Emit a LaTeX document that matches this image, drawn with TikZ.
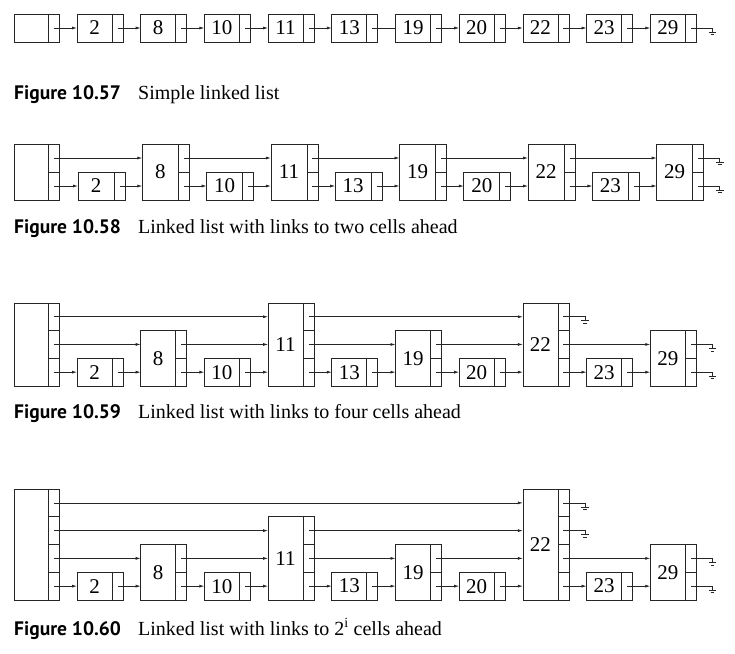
\documentclass[tikz,border=0pt]{standalone}
\usepackage{fontspec}
\setmainfont{Liberation Serif}
\newfontfamily\capsans{PT Sans}
\usetikzlibrary{arrows.meta}

\tikzset{
  box/.style={draw=black!85, line width=0.8pt, inner sep=0pt, outer sep=0pt,
              font=\fontsize{21}{21}\selectfont},
  link/.style={draw=black!85, line width=0.75pt, -{Latex[length=5pt,width=3pt]}},
  bare/.style={draw=black!85, line width=0.75pt},
  gnd/.style={draw=black!85, line width=0.75pt},
  capfig/.style={anchor=base west, inner sep=0pt, font=\capsans\bfseries\fontsize{19.5}{19.5}\selectfont},
  captxt/.style={anchor=base west, inner sep=0pt, font=\fontsize{20}{20}\selectfont},
}

% #1 id, #2 bottom y, #3 first x, #4 dx, #5 data width, #6 level height,
% #7 number of levels, #8 value/level list, #9 index without arrow head
\newcommand\skiplist[9]{%
  \node[box, minimum width=34pt, minimum height=#7*#6pt, anchor=south west]
    (f#1c0) at (14,#2) {};
  \foreach \k in {1,...,#7} {
    \node[box, minimum width=11pt, minimum height=#6pt, anchor=south west]
      (f#1c0-\k) at ([yshift=(\k-1)*#6pt]f#1c0.south east) {};
    \expandafter\xdef\csname lastcell\k\endcsname{f#1c0}
  }
  \foreach \v/\lev [count=\i] in {#8} {
    \node[box, minimum width=#5pt, minimum height=\lev*#6pt, anchor=south west]
      (f#1c\i) at ({#3+(\i-1)*#4},#2) {\v};
    \foreach \k in {1,...,\lev} {
      \node[box, minimum width=11pt, minimum height=#6pt, anchor=south west]
        (f#1c\i-\k) at ([yshift=(\k-1)*#6pt]f#1c\i.south east) {};
      \edef\src{\csname lastcell\k\endcsname}
      \ifnum\i=#9
        \draw[bare] (\src-\k.center) -- (\src-\k.center -| f#1c\i.west);
      \else
        \draw[link] (\src-\k.center) -- (\src-\k.center -| f#1c\i.west);
      \fi
      \expandafter\xdef\csname lastcell\k\endcsname{f#1c\i}
    }
  }
  \foreach \k in {1,...,#7} {
    \edef\src{\csname lastcell\k\endcsname}
    \draw[gnd] (\src-\k.center) -- ([xshift=16pt]\src-\k.east)
      coordinate (g#1-\k) -- ++(0,4);
    \draw[gnd] (g#1-\k) ++(-3.8,4) -- ++(7.6,0);
    \draw[gnd] (g#1-\k) ++(-1.8,6.5) -- ++(3.6,0);
  }
}

\begin{document}
\begin{tikzpicture}[x=1pt,y=-1pt]
  \useasboundingbox (0,0) rectangle (735,653);

  \skiplist{57}{42}{77}{63.7}{35}{28}{1}
    {2/1,8/1,10/1,11/1,13/1,19/1,20/1,22/1,23/1,29/1}{6}
  \node[capfig] (c57) at (14,99) {Figure 10.57};
  \node[captxt] (t57) at (138,99) {Simple linked list};

  \skiplist{58}{200}{78}{64.3}{36}{28}{2}
    {2/1,8/2,10/1,11/2,13/1,19/2,20/1,22/2,23/1,29/2}{0}
  \node[capfig] (c58) at (14,233) {Figure 10.58};
  \node[captxt] (t58) at (138,233) {Linked list with links to two cells ahead};

  \skiplist{59}{386}{77}{63.7}{35}{27.7}{3}
    {2/1,8/2,10/1,11/3,13/1,19/2,20/1,22/3,23/1,29/2}{0}
  \node[capfig] (c59) at (14,418) {Figure 10.59};
  \node[captxt] (t59) at (138,418) {Linked list with links to four cells ahead};

  \skiplist{60}{600}{77}{63.7}{35}{27.75}{4}
    {2/1,8/2,10/1,11/3,13/1,19/2,20/1,22/4,23/1,29/2}{0}
  \node[capfig] (c60) at (14,635) {Figure 10.60};
  \node[captxt] (t60) at (138,635) {Linked list with links to 2\textsuperscript{i} cells ahead};
\end{tikzpicture}
\end{document}
